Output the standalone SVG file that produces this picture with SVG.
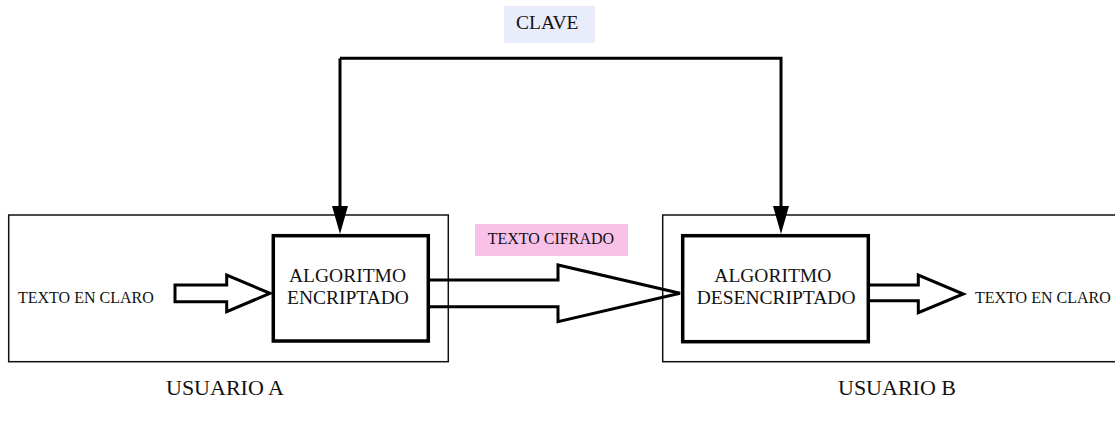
<svg xmlns="http://www.w3.org/2000/svg" width="1115" height="426" viewBox="0 0 1115 426">
  <style>
    .user { fill: none; stroke: #111; stroke-width: 1.5; }
    .algo { fill: #fff; stroke: #000; stroke-width: 3.5; }
    .block { fill: none; stroke: #000; stroke-width: 3; stroke-linejoin: miter; }
    .key { fill: none; stroke: #000; stroke-width: 3; }
    text { font-family: "Liberation Serif", "Times New Roman", serif; fill: #111; }
    .t16 { font-size: 16px; }
    .t19 { font-size: 19.5px; }
    .t22 { font-size: 22px; }
  </style>
  <defs>
    <marker id="head" markerUnits="userSpaceOnUse" markerWidth="28" markerHeight="16" viewBox="0 0 28 16" refX="0" refY="8" orient="auto">
      <path d="M0,0 L28,8 L0,16 Z" fill="#000"/>
    </marker>
  </defs>

  <rect width="1115" height="426" fill="#fff"/>

  <!-- user A -->
  <g id="usuario-a">
    <rect class="user" x="8.7" y="215" width="439.6" height="146.7"/>
    <text class="t16" x="18" y="303">TEXTO EN CLARO</text>
    <text class="t22" x="166" y="395">USUARIO A</text>
  </g>

  <!-- user B -->
  <g id="usuario-b">
    <rect class="user" x="662.7" y="215" width="470" height="146.7"/>
    <text class="t16" x="975" y="303.3">TEXTO EN CLARO</text>
    <text class="t22" x="838" y="395">USUARIO B</text>
  </g>

  <!-- encryption algorithm -->
  <g id="encriptado">
    <rect class="algo" x="273.3" y="235.7" width="155" height="105.3"/>
    <text class="t19" x="289" y="281.7">ALGORITMO</text>
    <text class="t19" x="287" y="304.3">ENCRIPTADO</text>
  </g>

  <!-- decryption algorithm -->
  <g id="desencriptado">
    <rect class="algo" x="682.7" y="235.7" width="185.6" height="106"/>
    <text class="t19" x="714.3" y="281.7">ALGORITMO</text>
    <text class="t19" x="696.7" y="304.3">DESENCRIPTADO</text>
  </g>

  <!-- key label -->
  <g id="clave">
    <rect x="504" y="6" width="91" height="37" fill="#e9ecfb"/>
    <text class="t19" x="516" y="29.3">CLAVE</text>
  </g>

  <!-- ciphertext label -->
  <g id="texto-cifrado">
    <rect x="475" y="224" width="153" height="32" fill="#f9c0e8"/>
    <text class="t16" x="487.7" y="244.3">TEXTO CIFRADO</text>
  </g>

  <!-- connectors -->
  <g id="connectors">
    <!-- key distribution to both algorithms -->
    <path class="key" d="M340,58.3 H781 V206" marker-end="url(#head)"/>
    <path class="key" d="M340,58.3 V206" marker-end="url(#head)"/>
    <!-- block arrows: plaintext in, ciphertext, plaintext out -->
    <polygon class="block" points="175,285 226.7,285 226.7,275 270,293.3 226.7,311.7 226.7,301.7 175,301.7"/>
    <polyline class="block" points="428,280 558,280 558,265 680,293.3 558,321.7 558,306.7 428,306.7"/>
    <polyline class="block" points="868.3,285 918.3,285 918.3,275 963.3,294 918.3,312.7 918.3,300.7 868.3,300.7"/>
  </g>
</svg>
